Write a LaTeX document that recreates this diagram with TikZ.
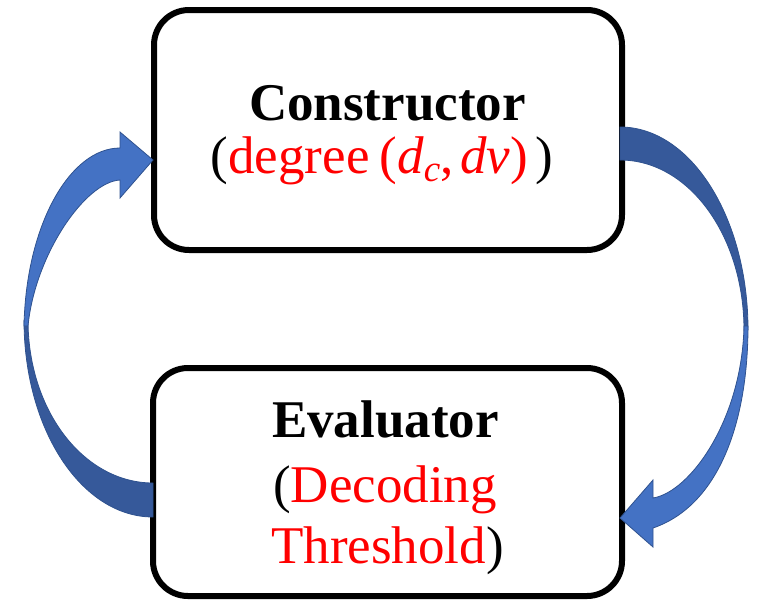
\documentclass[tikz,border=0pt]{standalone}
\usepackage{fontspec}
\setmainfont{Liberation Serif}
\definecolor{arrowlight}{HTML}{4472C4}
\definecolor{arrowdark}{HTML}{36599A}
\definecolor{arrowedge}{HTML}{2F528F}
\definecolor{labelred}{HTML}{FF0000}
\begin{document}
\begin{tikzpicture}[x=1pt,y=-1pt,
  box/.style={draw=black, line width=6pt, rounded corners=35pt, fill=white, inner sep=0pt},
  titletext/.style={font=\fontsize{53}{53}\selectfont\bfseries, anchor=base, inner sep=0pt},
  subtext/.style={font=\fontsize{53}{53}\selectfont, anchor=base, inner sep=0pt},
  lightpart/.style={fill=arrowlight, draw=arrowedge, line width=0.8pt, line join=miter},
  darkpart/.style={fill=arrowdark, draw=arrowedge, line width=0.8pt}]

\useasboundingbox (0,0) rectangle (763,600);

% the two stages
\node[box, minimum width=468pt, minimum height=240pt] (constructor) at (388,130) {};
\node[box, minimum width=469pt, minimum height=228pt] (evaluator) at (387.5,482) {};

% stage labels
\node[titletext] (ctitle) at (387.5,120) {Constructor};
\node[subtext] (csub) at (382,173) {(\textcolor{labelred}{degree\hspace{10pt}(\textit{d}\textsubscript{\textit{c}},\hspace{6pt}\textit{dv})}\hspace{8pt})};
\node[titletext] (etitle) at (385.5,437) {Evaluator};
\node[subtext] (esub1) at (385,502) {(\textcolor{labelred}{Decoding}};
\node[subtext] (esub2) at (387.5,563) {\textcolor{labelred}{Threshold})};

% feedback arrow on the left: evaluator -> constructor
\path[darkpart] (153,517) .. controls (82,517) and (24,430) .. (24,320)
  -- (28,320) .. controls (28,411) and (84,483) .. (153,483) -- cycle;
\path[lightpart] (24,326) .. controls (26,225) and (70,148) .. (120,148)
  -- (120,132) -- (153,160) -- (120,198) -- (120,180)
  .. controls (85,182) and (35,255) .. (28,326) -- cycle;

% forward arrow on the right: constructor -> evaluator
\path[darkpart] (620,127) .. controls (691,127) and (748,218) .. (748,330)
  -- (744,330) .. controls (744,236) and (689,160) .. (620,160) -- cycle;
\path[lightpart] (748,326) .. controls (748,420) and (720,505) .. (653,528)
  -- (653,547) -- (620,518) -- (653,480) -- (653,498)
  .. controls (690,492) and (742,420) .. (744,326) -- cycle;
\end{tikzpicture}
\end{document}
